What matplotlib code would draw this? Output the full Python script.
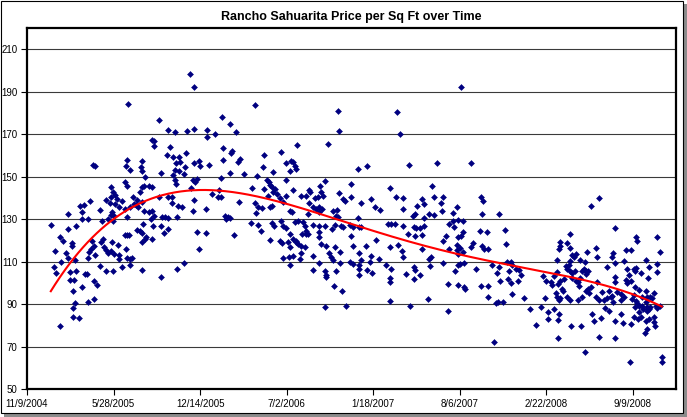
import matplotlib
matplotlib.use("Agg")
import matplotlib.pyplot as plt
import matplotlib.dates as mdates
from matplotlib.patches import Rectangle
import numpy as np
import datetime as dt

# ---------------- data ----------------
START_DATE = dt.date(2004, 11, 9)
TITLE = "Rancho Sahuarita Price per Sq Ft over Time"
Y_TICKS = [50, 70, 90, 110, 130, 150, 170, 190, 210]
X_TICK_DAYS = [0, 200, 400, 600, 800, 1000, 1200, 1400]
X_SPAN_DAYS = 1500
Y_MIN, Y_MAX = 50, 220

# days since 11/9/2004 and price per sq ft, by period
days_seg1 = [233,289,294,293,152,157,230,229,239,266,
             263,266,273,227,231,195,199,203,193,266,
             262,271,283,289,245,254,266,257,252,145,
             123,131,126,127,142,182,169,191,95,55,
             77,83,95,114,208,219,213,203,196,193,
             202,188,231,227,239,248,271,281,289,293,
             286,291,173,199,226,231,236,254,262,266,
             268,273,266,289,276,64,91,95,79,62,
             68,105,105,112,150,154,147,144,158,142,
             176,171,177,183,187,193,197,211,200,213,
             212,228,230,239,243,169,182,199,219,237,
             266,99,114,99,109,135,139,154,162,126,
             106,110,106,142,154,106,120,77]
price_seg1 = [184.4,167.4,166.9,164.6,155.6,155.0,157.7,155.0,153.1,157.2,
              154.4,152.5,149.7,147.5,145.6,145.0,142.9,141.5,140.3,145.0,
              142.9,145.7,145.7,145.3,140.3,139.0,137.9,135.5,136.8,138.5,
              136.3,136.6,133.2,129.9,129.9,138.8,134.3,137.4,132.5,127.0,
              121.7,119.8,125.2,126.6,139.4,138.3,135.5,137.1,133.2,132.1,
              131.6,130.0,131.1,134.6,135.5,137.1,134.0,133.2,134.0,131.6,
              130.0,126.7,129.2,129.2,122.6,122.3,122.6,124.8,124.5,123.3,
              127.7,120.6,119.0,120.6,121.4,115.1,113.9,111.7,109.6,107.3,
              104.6,118.9,117.5,110.8,119.8,117.5,115.9,114.3,113.2,111.5,
              120.8,119.0,116.7,115.6,114.0,115.1,119.0,117.8,113.5,113.1,
              111.2,115.7,111.5,111.3,111.7,108.0,105.4,105.4,107.3,108.5,
              106.0,105.1,105.4,101.3,101.3,104.1,104.1,101.0,99.1,98.2,
              96.3,90.5,88.0,91.2,92.2,83.7,83.6,79.8]

days_seg2 = [377,387,528,304,325,342,370,386,415,415,
             434,451,470,484,330,324,338,351,344,354,
             342,351,365,367,338,364,386,398,401,421,
             454,474,471,453,493,488,547,545,587,569,
             502,469,310,342,344,384,392,388,448,532,
             305,325,334,336,348,359,379,386,414,384,
             444,427,442,448,490,519,547,554,559,561,
             567,573,569,577,558,585,592,527,535,542,
             561,567,530,311,319,327,346,310,317,327,
             458,464,469,460,394,414,397,478,518,533,
             541,561,567,571,588,585,590,364,346,310,
             592]
price_seg2 = [198.5,192.0,183.6,176.7,171.9,171.2,171.5,172.4,172.1,168.5,
              169.9,178.1,174.9,171.2,163.8,160.3,159.1,159.1,156.2,156.7,
              153.3,152.8,154.4,161.1,150.8,151.2,156.2,157.5,155.0,155.6,
              163.5,162.2,161.1,157.8,158.3,157.0,160.2,154.4,161.7,152.0,
              151.2,151.5,151.7,148.4,146.5,148.4,148.7,147.5,149.2,150.1,
              140.2,140.2,140.2,137.6,136.3,135.5,144.5,139.0,134.9,133.8,
              143.8,141.8,140.2,140.5,138.0,144.5,144.2,148.4,147.3,146.2,
              144.9,144.2,142.6,141.8,141.0,139.9,137.9,137.4,135.5,135.2,
              135.5,136.1,133.0,131.1,130.8,130.5,131.1,126.9,123.3,125.5,
              131.4,130.8,130.5,130.0,123.9,123.4,115.7,122.3,128.1,127.0,
              124.4,120.4,128.1,126.9,129.2,119.7,118.9,109.5,106.5,102.6,
              111.5]

days_seg3 = [719,721,856,863,625,696,598,611,615,619,
             621,609,765,786,883,599,688,678,748,840,
             615,598,634,644,652,655,665,672,680,684,
             721,730,736,749,771,796,805,817,853,869,
             870,609,613,652,649,661,669,676,682,675,
             707,717,715,719,765,773,592,599,619,626,
             639,642,644,661,676,688,706,712,726,730,
             746,753,767,834,842,850,870,609,615,621,
             626,636,644,649,675,675,680,690,603,634,
             642,622,609,606,615,630,634,661,699,703,
             707,713,723,749,753,784,767,771,796,806,
             813,840,857,867,870,880,607,675,723,746,
             753,767,793,829,662,688,690,690,715,767,
             767,786,798,842,838,838,876,709,728,840,
             688,738,886]
price_seg3 = [180.9,171.5,180.6,170.2,165.0,165.5,156.2,157.5,156.7,155.1,
              153.6,152.8,153.4,155.1,155.5,148.4,147.8,145.4,146.5,144.6,
              143.7,141.0,141.0,141.0,143.7,142.6,139.9,140.2,142.6,141.0,
              142.3,139.4,138.7,140.2,137.6,139.6,135.8,134.3,140.2,139.8,
              135.0,134.0,133.2,137.4,132.4,135.5,134.7,135.5,134.7,133.2,
              134.0,134.4,131.6,131.1,130.3,126.1,126.6,125.8,128.8,129.2,
              128.5,126.9,124.5,127.2,126.6,126.6,125.3,127.2,126.9,126.1,
              127.4,126.4,126.4,127.7,127.7,127.7,126.7,123.0,120.6,119.8,
              118.3,123.0,123.0,123.0,123.7,121.7,118.3,117.5,119.0,117.5,
              117.0,119.3,116.7,112.0,112.8,111.2,113.9,112.8,113.9,112.0,
              110.7,116.7,114.6,121.9,117.5,117.5,113.9,110.7,112.8,120.1,
              111.2,116.7,117.8,115.1,112.3,123.0,108.5,109.5,109.5,109.6,
              108.8,108.5,109.6,108.5,106.0,105.7,103.6,102.9,105.7,106.5,
              103.8,106.2,104.8,106.5,102.5,100.2,104.1,98.5,96.1,91.6,
              88.7,89.2,89.2]

days_seg4 = [1003,947,1026,937,940,962,1049,1053,912,918,
             901,958,994,984,959,891,897,930,940,917,
             976,984,995,988,1007,1051,1090,894,899,909,
             917,912,897,968,962,1007,1003,997,1048,1063,
             1105,914,976,993,994,1001,1007,995,1030,1026,
             1051,1057,1066,1107,930,934,932,894,897,909,
             895,961,990,995,1001,1009,1038,1075,1086,1091,
             1094,1109,1118,1122,1115,1111,1118,1130,1138,1142,
             1134,974,995,1011,1013,1049,1066,1066,1122,1148,
             926,1084,1089,1101,974,1163,1176,1080]
price_seg4 = [192.0,156.6,156.6,145.4,140.5,140.2,140.2,138.7,139.4,137.1,
              136.0,137.4,135.5,133.0,134.0,131.6,132.4,132.4,132.1,130.3,
              127.7,129.2,129.6,126.1,128.9,132.4,132.4,126.1,125.6,125.6,
              126.6,122.6,121.9,122.2,119.5,123.7,122.2,121.4,124.5,123.9,
              124.8,115.9,115.9,117.8,115.6,116.2,114.6,113.5,118.6,116.7,
              117.5,115.9,115.9,118.1,111.2,112.0,108.0,107.3,106.2,103.7,
              101.8,109.3,105.4,108.5,108.8,109.1,106.3,108.4,104.4,107.3,
              100.7,109.6,109.6,108.4,105.4,101.8,99.7,106.5,106.0,103.8,
              100.7,99.6,99.1,97.8,96.9,98.6,98.6,93.1,94.9,92.7,
              92.2,90.5,90.8,90.9,86.7,87.6,80.3,71.9]

days_seg5 = [1304,1323,1359,1254,1457,1408,1410,1233,1231,1229,
             1248,1254,1316,1318,1295,1354,1353,1385,1395,1464,
             1457,1226,1260,1269,1264,1256,1253,1279,1289,1283,
             1287,1293,1297,1254,1259,1266,1246,1249,1341,1360,
             1380,1387,1403,1408,1406,1418,1431,1437,1436,1457,
             1192,1200,1210,1214,1218,1226,1231,1228,1241,1259,
             1268,1279,1276,1274,1291,1318,1359,1359,1385,1387,
             1395,1391,1406,1414,1430,1433,1449,1462,1197,1222,
             1226,1229,1236,1239,1233,1249,1256,1274,1283,1291,
             1297,1303,1300,1316,1323,1333,1341,1349,1330,1346,
             1353,1354,1364,1374,1374,1380,1399,1403,1407,1414,
             1422,1430,1439,1445,1453,1457,1437,1433,1422,1410,
             1189,1205,1218,1229,1205,1228,1258,1281,1305,1310,
             1327,1337,1345,1360,1372,1378,1395,1403,1413,1418,
             1431,1437,1433,1428,1449,1450,1451,1414,1434,1423,
             1406,1441,1228,1323,1360,1289,1393,1467,1467]
price_seg5 = [136.3,139.9,125.8,123.1,121.4,121.4,119.5,119.3,117.5,115.9,
              118.6,116.4,116.2,112.0,114.6,113.9,112.0,115.4,115.4,114.6,
              108.8,110.7,113.2,113.5,112.0,110.4,108.5,110.7,109.6,105.7,
              106.5,105.4,105.4,105.7,104.4,105.4,108.0,106.5,107.3,109.1,
              110.1,106.5,106.5,106.9,105.7,104.4,110.7,107.6,102.2,105.2,
              103.3,101.0,100.2,99.1,103.3,104.9,101.0,99.4,101.6,102.5,
              101.0,102.5,98.6,100.2,104.1,100.5,102.9,100.2,101.3,99.7,
              101.0,103.8,97.8,96.6,96.3,93.1,95.3,89.2,92.7,95.0,
              93.1,91.9,97.1,96.0,92.8,93.1,91.9,91.9,93.1,96.0,
              97.1,97.8,95.0,93.1,91.9,91.9,92.8,93.1,95.8,96.3,
              93.9,90.8,95.5,94.7,91.9,93.1,92.3,94.4,91.6,89.2,
              89.2,90.8,93.1,92.8,89.2,88.1,87.6,88.4,93.1,90.3,
              88.4,86.1,87.5,85.3,82.9,82.5,79.8,79.8,85.3,82.1,
              83.2,88.1,86.9,82.1,85.3,81.0,80.6,84.0,82.9,83.7,
              82.1,82.9,78.2,76.3,84.0,81.4,79.8,86.1,86.9,87.6,
              88.4,88.4,73.8,74.3,73.8,67.2,62.5,65.2,62.8]

TREND_DEGREE = 4

# ---------------- assemble ----------------
days = np.array(days_seg1 + days_seg2 + days_seg3 + days_seg4 + days_seg5, dtype=float)
price = np.array(price_seg1 + price_seg2 + price_seg3 + price_seg4 + price_seg5, dtype=float)
x0 = mdates.date2num(START_DATE)

plt.rcParams["font.family"] = ["Liberation Sans Narrow", "Liberation Sans", "DejaVu Sans"]

W, H = 687, 417
fig = plt.figure(figsize=(W / 100, H / 100), dpi=100)
fig.patch.set_facecolor("white")

# chart-area frame with shadow
fig.patches.append(Rectangle((4 / W, 0), (W - 4) / W, (H - 4) / H, transform=fig.transFigure,
                             facecolor="#8c8c8c", edgecolor="none", zorder=-3))
fig.patches.append(Rectangle((0.5 / W, 4 / H), (W - 4.5) / W, (H - 4.5) / H, transform=fig.transFigure,
                             facecolor="white", edgecolor="black", linewidth=0.8, zorder=-2))

ax = fig.add_axes([27 / W, (H - 389) / H, (676 - 27) / W, (389 - 28) / H])
ax.set_facecolor("white")

# gridlines
for yv in Y_TICKS[1:]:
    ax.axhline(yv, color="#3a3a3a", linewidth=0.8, zorder=1)

# data points
ax.plot(x0 + days, price, linestyle="none", marker="D", markersize=3.0,
        markerfacecolor="#000080", markeredgecolor="#000080", markeredgewidth=0.4, zorder=3)

# polynomial trendline
poly = np.polynomial.Polynomial.fit(days, price, TREND_DEGREE)
xs = np.linspace(days.min(), days.max(), 400)
ax.plot(x0 + xs, poly(xs), color="#ff0000", linewidth=1.5, zorder=4)

ax.set_xlim(x0, x0 + X_SPAN_DAYS)
ax.set_ylim(Y_MIN, Y_MAX)
ax.set_yticks(Y_TICKS)
ax.set_yticklabels([str(v) for v in Y_TICKS])
tick_pos = [x0 + d for d in X_TICK_DAYS]
ax.set_xticks(tick_pos)
labels = []
for d in X_TICK_DAYS:
    t = START_DATE + dt.timedelta(days=d)
    labels.append(f"{t.month}/{t.day}/{t.year}")
ax.set_xticklabels(labels)

for s in ax.spines.values():
    s.set_linewidth(1.6)
    s.set_color("black")
ax.tick_params(axis="both", direction="out", length=4, width=0.8, labelsize=7, colors="black")
ax.tick_params(axis="y", pad=3)
ax.tick_params(axis="x", pad=3)

fig.text(351.5 / W, 1 - 17 / H, TITLE, ha="center", va="center", fontsize=9, fontweight="bold")

fig.savefig("out.png", dpi=100, facecolor="white")
